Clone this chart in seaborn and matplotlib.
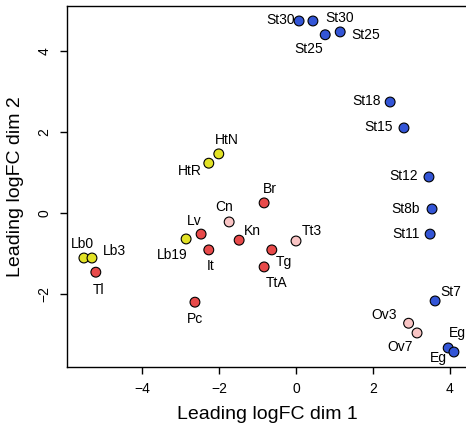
import matplotlib
matplotlib.use("Agg")
import matplotlib.pyplot as plt
import seaborn as sns
import pandas as pd

labels = ["St30", "St30", "St25", "St25", "St18", "St15", "St12", "St8b", "St11", "St7",
          "Ov3", "Ov7", "Eg", "Eg",
          "HtN", "HtR", "Br", "Cn", "Lv", "Lb19", "Kn", "It", "Tt3", "Tg", "TtA",
          "Lb0", "Lb3", "Tl", "Pc"]
dim1 = [0.08, 0.44, 0.76, 1.15, 2.45, 2.81, 3.46, 3.54, 3.49, 3.62,
        2.93, 3.15, 3.96, 4.11,
        -2.01, -2.27, -0.83, -1.74, -2.47, -2.86, -1.48, -2.27, 0.00, -0.63, -0.83,
        -5.52, -5.31, -5.21, -2.63]
dim2 = [4.74, 4.74, 4.40, 4.47, 2.74, 2.10, 0.89, 0.10, -0.52, -2.17,
        -2.72, -2.96, -3.33, -3.43,
        1.46, 1.23, 0.25, -0.22, -0.52, -0.64, -0.67, -0.91, -0.69, -0.91, -1.33,
        -1.11, -1.11, -1.46, -2.20]
group = ["blue"] * 10 + ["pink", "pink", "blue", "blue",
         "yellow", "yellow", "red", "pink", "red", "yellow", "red", "red", "pink", "red", "red",
         "yellow", "yellow", "red", "red"]
palette = {"blue": "#3355D6", "yellow": "#E2E226", "red": "#E84A4A", "pink": "#F9C4C4"}

# label offsets (pixels) relative to each point
label_dx = [-18, 27, -17, 26, -24, -25, -25, -26, -24, 16,
            -24, -17, 9, -16,
            8, -19, 6, -5, -7, -14, 13, 2, 16, 12, 12,
            -1, 22, 3, 0]
label_dy = [1, 3, -14, -3, 1, 1, 1, 0, 0, 9,
            8, -14, 15, -6,
            14, -8, 14, 15, 13, -16, 9, -16, 10, -12, -16,
            14, 7, -18, -17]

df = pd.DataFrame({"label": labels, "dim1": dim1, "dim2": dim2, "group": group})

sns.set_style("ticks")
plt.rcParams["font.family"] = ["Liberation Sans", "DejaVu Sans"]
plt.rcParams["text.color"] = "black"
plt.rcParams["axes.labelcolor"] = "black"
plt.rcParams["xtick.color"] = "black"
plt.rcParams["ytick.color"] = "black"

fig = plt.figure(figsize=(4.66, 4.32), dpi=100)
ax = fig.add_axes([67 / 466, 1 - 367 / 432, 400 / 466, 361 / 432])

sns.scatterplot(data=df, x="dim1", y="dim2", hue="group", palette=palette,
                s=50, edgecolor="black", linewidth=0.8, legend=False, ax=ax, zorder=3)

for lab, x, y, dx, dy in zip(labels, dim1, dim2, label_dx, label_dy):
    ax.annotate(lab, (x, y), xytext=(dx, dy), textcoords="offset pixels",
                ha="center", va="center", fontsize=10, color="black")

ax.set_xlim(-5.96, 4.45)
ax.set_ylim(-3.80, 5.11)
ax.set_xticks([-4, -2, 0, 2, 4])
ax.set_yticks([-2, 0, 2, 4])
ax.set_xticklabels(["\u22124", "\u22122", "0", "2", "4"])
ax.set_yticklabels(["\u22122", "0", "2", "4"], rotation=90, va="center")
ax.tick_params(axis="both", length=5, width=1, labelsize=10, colors="black", pad=6)
for sp in ax.spines.values():
    sp.set_visible(True)
    sp.set_linewidth(1.0)
    sp.set_color("black")
ax.set_xlabel("Leading logFC dim 1", fontsize=14, labelpad=7, color="black")
ax.set_ylabel("Leading logFC dim 2", fontsize=14, labelpad=10, color="black")

fig.savefig("out.png", dpi=100)
